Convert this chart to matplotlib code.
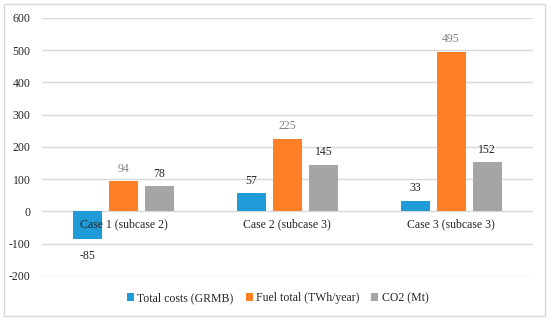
import numpy as np
import matplotlib
matplotlib.use('Agg')
import matplotlib.pyplot as plt
from matplotlib.patches import Rectangle

# chart values
cases = ['Case 1 (subcase 2)', 'Case 2 (subcase 3)', 'Case 3 (subcase 3)']
total_costs = [-85, 57, 33]
fuel_total = [94, 225, 495]
co2 = [78, 145, 152]
series_names = ['Total costs (GRMB)', 'Fuel total (TWh/year)', 'CO2 (Mt)']
yticks = [-200, -100, 0, 100, 200, 300, 400, 500, 600]

colors = ['#1F9BD8', '#FF7F27', '#A5A5A5']
label_colors = ['#262626', '#7F7F7F', '#262626']

plt.rcParams['font.family'] = ['Liberation Serif', 'DejaVu Serif']

fig = plt.figure(figsize=(5.5, 3.2), dpi=100)
ax = fig.add_axes([0.076, 0.1375, 0.893, 0.8065])

# outer border of the chart
fig.patches.append(Rectangle((0.008, 0.012), 0.982, 0.975, transform=fig.transFigure,
                             fill=False, edgecolor='#D9D9D9', linewidth=1))

x = np.arange(len(cases))
width = 0.177
step = 0.22
for n, vals in enumerate([total_costs, fuel_total, co2]):
    pos = x + (n - 1) * step
    bars = ax.bar(pos, vals, width, color=colors[n], label=series_names[n], zorder=3)
    for p, v in zip(pos, vals):
        off = 9 if v >= 0 else -12
        ax.annotate(str(v), (p, v), xytext=(0, off), textcoords='offset points',
                    ha='center', va='center', fontsize=8.5, color=label_colors[n])

ax.set_xlim(-0.5, 2.5)
ax.set_ylim(-200, 600)
ax.set_yticks(yticks)
ax.set_yticklabels([str(t) for t in yticks], fontsize=8.5, color='#262626')
ax.yaxis.grid(True, color='#D9D9D9', linewidth=1, zorder=0)
ax.tick_params(axis='y', length=0, pad=8)
ax.tick_params(axis='x', length=0)
ax.set_xticks([])
for s in ax.spines.values():
    s.set_visible(False)

# category labels sit just under the zero line
for xi, c in zip(x, cases):
    ax.annotate(c, (xi, 0), xytext=(0, -9), textcoords='offset points',
                ha='center', va='center', fontsize=8.5, color='#262626')

leg = fig.legend(loc='center', bbox_to_anchor=(0.505, 0.069), ncol=3, frameon=False,
                 fontsize=8.5, handlelength=0.6, handleheight=0.6, handletextpad=0.3,
                 columnspacing=1.0)
for t in leg.get_texts():
    t.set_color('#262626')

fig.savefig('out.png', dpi=100)
